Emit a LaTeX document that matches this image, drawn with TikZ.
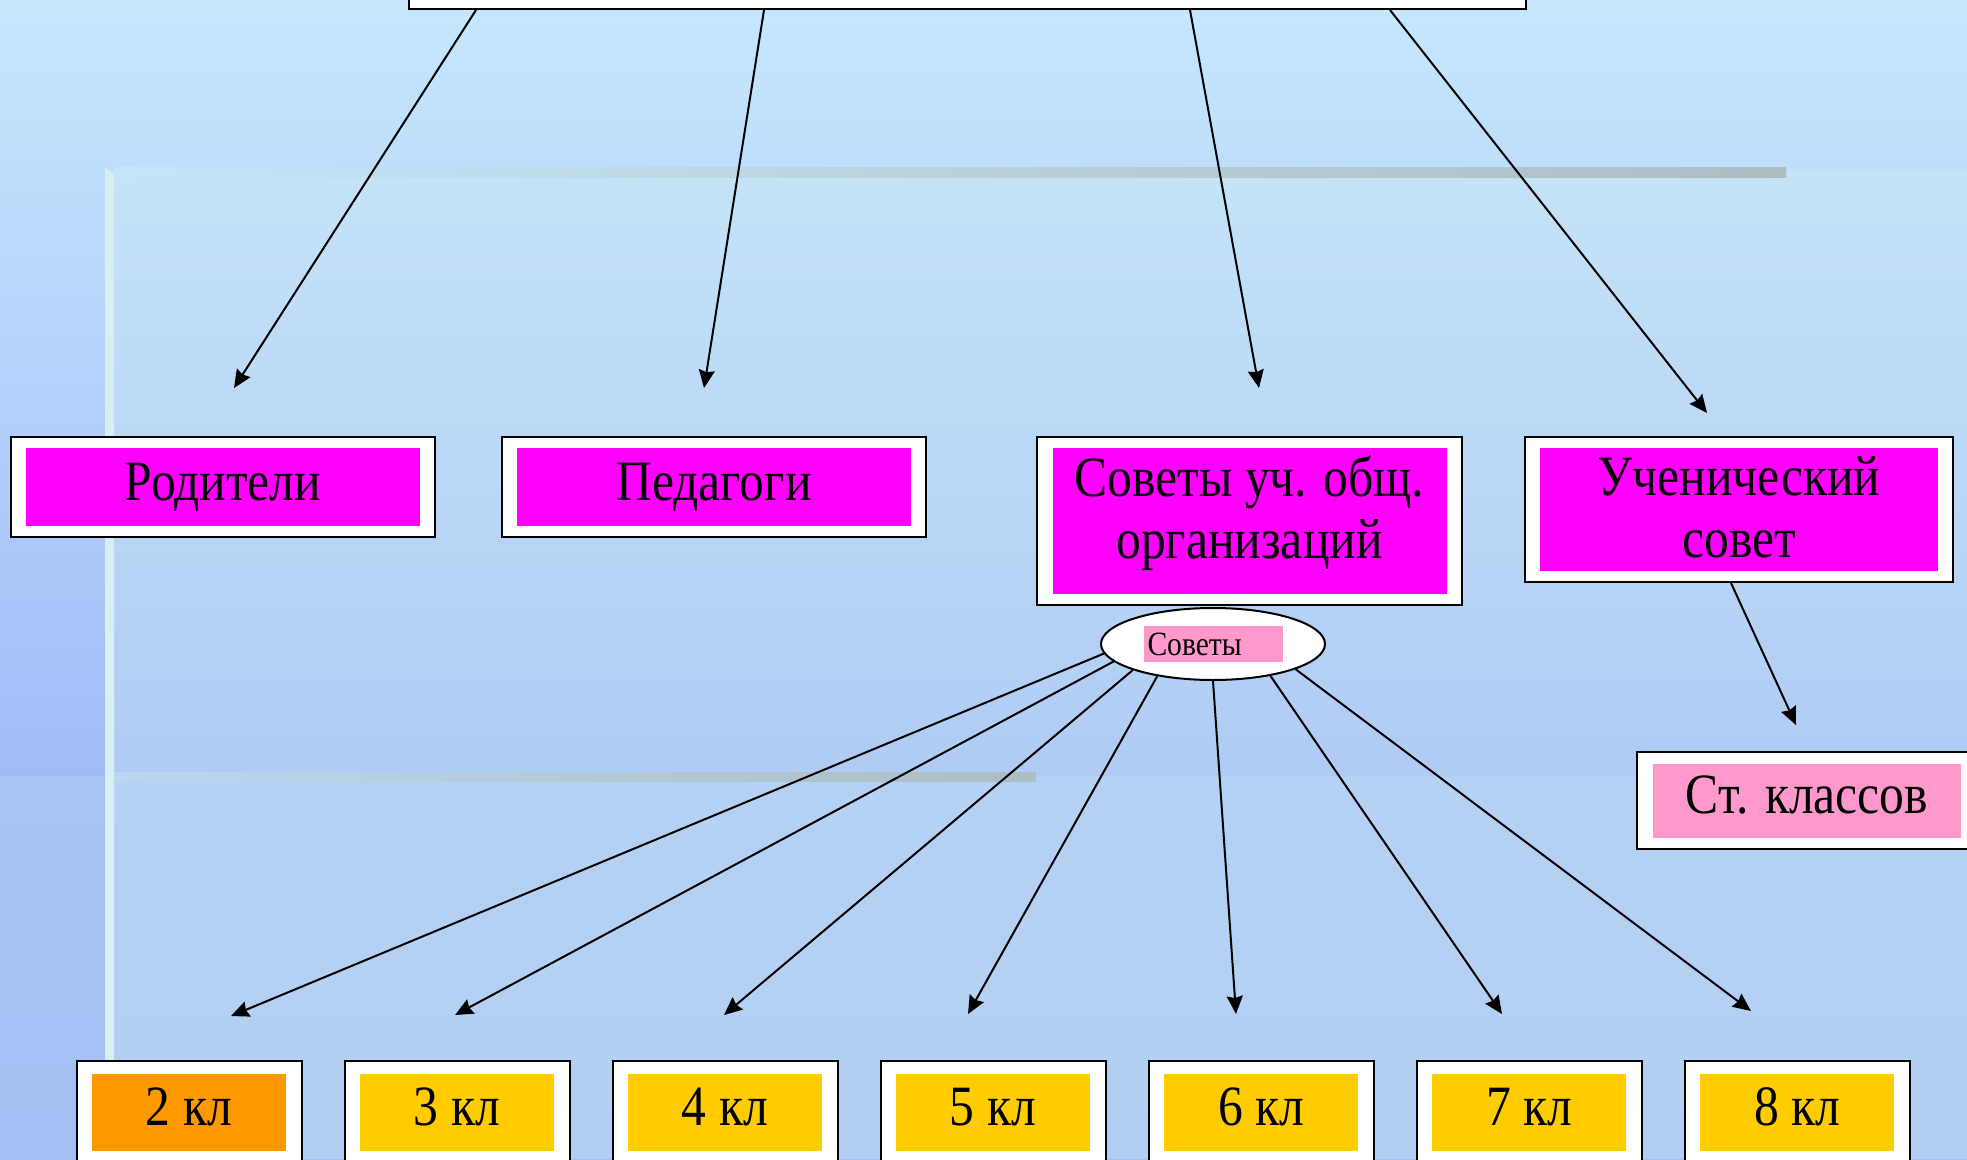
\documentclass[tikz,border=0pt]{standalone}
\usepackage{fontspec}
\setmainfont{Liberation Serif}[FakeStretch=0.87]
\usetikzlibrary{arrows.meta,shapes.geometric}
\definecolor{bgtop}{RGB}{199,231,253}
\definecolor{bgmid}{RGB}{160,188,248}
\definecolor{bglow}{RGB}{168,196,246}
\definecolor{bgbot}{RGB}{164,192,244}
\definecolor{panel}{RGB}{213,241,238}
\definecolor{stripe}{RGB}{216,238,240}
\definecolor{barlight}{RGB}{199,229,248}
\definecolor{barmid}{RGB}{196,224,238}
\definecolor{bargray}{RGB}{172,190,194}
\definecolor{barlow}{RGB}{186,214,240}
\definecolor{magentabox}{RGB}{255,0,255}
\definecolor{pinkbox}{RGB}{255,153,204}
\definecolor{orangebox}{RGB}{255,153,0}
\definecolor{yellowbox}{RGB}{255,204,0}
\begin{document}
\begin{tikzpicture}[x=1pt,y=-1pt,
  outbox/.style={draw=black, line width=2pt, fill=white, inner sep=0pt},
  tagbox/.style={inner sep=0pt, align=center, font=\fontsize{57}{62}\selectfont, text height=40pt, text depth=14pt},
  arr/.style={line width=2pt, -{Stealth[length=18pt,width=16pt,inset=2pt]}}]
\useasboundingbox (0,0) rectangle (1967,1159);
\shade[top color=bgtop, bottom color=bgmid] (0,0) rectangle (1967,776);
\shade[top color=bglow, bottom color=bgbot] (0,776) rectangle (1967,1159);
\fill[panel, opacity=0.3] (105,170) rectangle (1967,1159);
\fill[stripe] (105,168) -- (114,174) -- (114,1159) -- (105,1159) -- cycle;
\shade[left color=barlight, middle color=barmid, right color=bargray] (114,167) rectangle (1786,177);
\shade[left color=barlow, right color=bargray] (114,772) rectangle (1036,781);
\node[outbox, minimum width=1117pt, minimum height=100pt] (top) at (967.5,-41) {};
\node[outbox, minimum width=424pt, minimum height=100pt] (rodF) at (223,487) {};
\node[tagbox, fill=magentabox, minimum width=394pt, minimum height=78pt] (rod) at (rodF) {Родители};
\node[outbox, minimum width=424pt, minimum height=100pt] (pedF) at (714,487) {};
\node[tagbox, fill=magentabox, minimum width=394pt, minimum height=78pt] (ped) at (pedF) {Педагоги};
\node[outbox, minimum width=425pt, minimum height=168pt] (sovF) at (1249.5,521) {};
\node[tagbox, fill=magentabox, minimum width=394pt, minimum height=146pt, text height=102pt, text depth=28pt] (sov) at (sovF) {Советы уч. общ.\\организаций};
\node[outbox, minimum width=428pt, minimum height=145pt] (uchF) at (1739,509.5) {};
\node[tagbox, fill=magentabox, minimum width=398pt, minimum height=123pt, text height=102pt, text depth=7pt] (uch) at (uchF) {Ученический\\совет};
\node[outbox, minimum width=340pt, minimum height=97pt] (stF) at (1807,800.5) {};
\node[tagbox, fill=pinkbox, minimum width=308pt, minimum height=74pt] (st) at (stF) {Ст. классов};
\node[ellipse, draw=black, line width=2pt, fill=white, minimum width=224pt, minimum height=72pt, inner sep=0pt] (sovE) at (1213,644) {};
\node[fill=pinkbox, minimum height=36pt, text width=131pt, inner xsep=4pt, inner ysep=2pt, align=left, font=\fontsize{34}{38}\selectfont, text height=24pt, text depth=2pt] (sovL) at (sovE) {Советы};
\node[outbox, minimum width=225pt, minimum height=102pt] (kF2) at (189,1112) {};
\node[tagbox, fill=orangebox, minimum width=194pt, minimum height=77pt] (k2) at (kF2) {2 кл};
\node[outbox, minimum width=225pt, minimum height=102pt] (kF3) at (457,1112) {};
\node[tagbox, fill=yellowbox, minimum width=194pt, minimum height=77pt] (k3) at (kF3) {3 кл};
\node[outbox, minimum width=225pt, minimum height=102pt] (kF4) at (725,1112) {};
\node[tagbox, fill=yellowbox, minimum width=194pt, minimum height=77pt] (k4) at (kF4) {4 кл};
\node[outbox, minimum width=225pt, minimum height=102pt] (kF5) at (993,1112) {};
\node[tagbox, fill=yellowbox, minimum width=194pt, minimum height=77pt] (k5) at (kF5) {5 кл};
\node[outbox, minimum width=225pt, minimum height=102pt] (kF6) at (1261,1112) {};
\node[tagbox, fill=yellowbox, minimum width=194pt, minimum height=77pt] (k6) at (kF6) {6 кл};
\node[outbox, minimum width=225pt, minimum height=102pt] (kF7) at (1529,1112) {};
\node[tagbox, fill=yellowbox, minimum width=194pt, minimum height=77pt] (k7) at (kF7) {7 кл};
\node[outbox, minimum width=225pt, minimum height=102pt] (kF8) at (1797,1112) {};
\node[tagbox, fill=yellowbox, minimum width=194pt, minimum height=77pt] (k8) at (kF8) {8 кл};
\coordinate (toRod) at (234,388);
\coordinate (toPed) at (704,388);
\coordinate (toSov) at (1259,388);
\coordinate (toUch) at (1707,413);
\coordinate (toSt) at (1796,725);
\coordinate (to2) at (231,1016);
\coordinate (to3) at (455,1015);
\coordinate (to4) at (724,1015);
\coordinate (to5) at (968,1014);
\coordinate (to6) at (1236,1014);
\coordinate (to7) at (1502,1014);
\coordinate (to8) at (1751,1011);
\draw[arr] ([xshift=68pt]top.south west) -- (toRod);
\draw[arr] ([xshift=356pt]top.south west) -- (toPed);
\draw[arr] ([xshift=782pt]top.south west) -- (toSov);
\draw[arr] ([xshift=982pt]top.south west) -- (toUch);
\draw[arr] ([xshift=-8pt]uchF.south) -- (toSt);
\draw[arr] (sovE.185) -- (to2);
\draw[arr] (sovE.190) -- (to3);
\draw[arr] (sovE.198) -- (to4);
\draw[arr] (sovE.210) -- (to5);
\draw[arr] (sovE.270) -- (to6);
\draw[arr] (sovE.331) -- (to7);
\draw[arr] (sovE.343) -- (to8);
\end{tikzpicture}
\end{document}
